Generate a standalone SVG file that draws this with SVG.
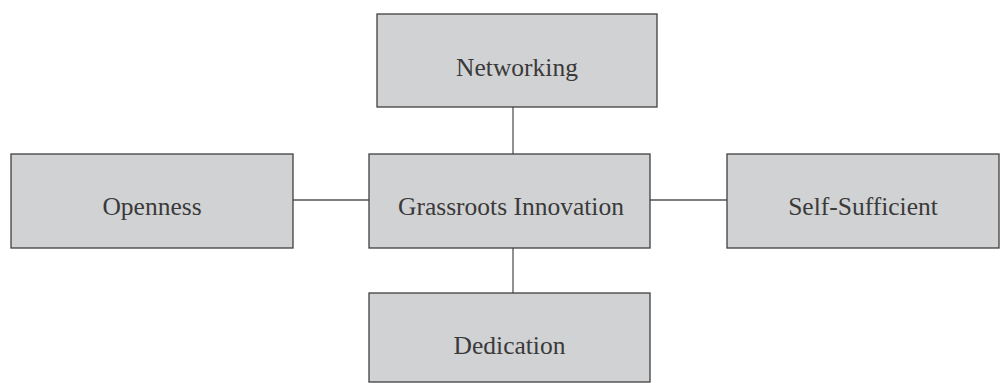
<svg xmlns="http://www.w3.org/2000/svg" width="1001" height="383" viewBox="0 0 1001 383">
<style>
.box{fill:#d1d2d4;stroke:#404040;stroke-width:1.3}
.lbl{font-family:"Liberation Serif",serif;font-size:25.5px;fill:#3a3a3a;text-anchor:middle;dominant-baseline:central}
.conn{stroke:#555;stroke-width:1.3;fill:none}
</style>
<rect width="1001" height="383" fill="#fff"/>
<g id="connectors">
<line class="conn" x1="513" y1="107" x2="513" y2="154"/>
<line class="conn" x1="513" y1="248" x2="513" y2="293"/>
<line class="conn" x1="293" y1="200" x2="369" y2="200"/>
<line class="conn" x1="650" y1="200" x2="727" y2="200"/>
</g>
<g id="networking"><rect class="box" x="377" y="14" width="280" height="93"/><text class="lbl" x="517" y="67">Networking</text></g>
<g id="openness"><rect class="box" x="11" y="154" width="282" height="94"/><text class="lbl" x="152" y="206">Openness</text></g>
<g id="grassroots"><rect class="box" x="369" y="154" width="281" height="94"/><text class="lbl" x="511" y="206">Grassroots Innovation</text></g>
<g id="selfsufficient"><rect class="box" x="727" y="154" width="272" height="94"/><text class="lbl" x="863" y="206">Self-Sufficient</text></g>
<g id="dedication"><rect class="box" x="369" y="293" width="281" height="89"/><text class="lbl" x="509.5" y="345">Dedication</text></g>
</svg>
